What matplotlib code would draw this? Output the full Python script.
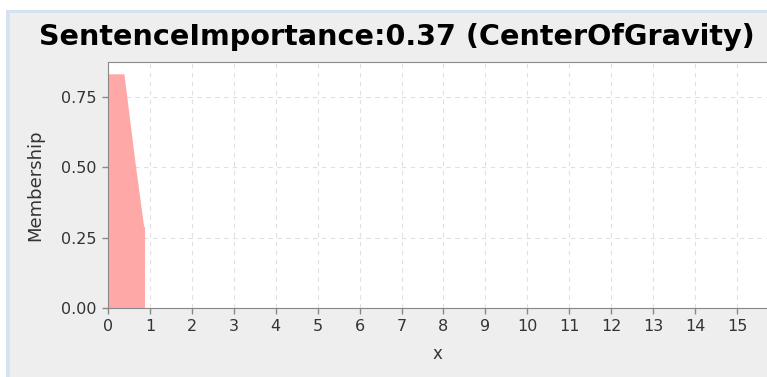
import matplotlib.pyplot as plt
from matplotlib.patches import Rectangle

plt.rcParams['font.family'] = ['DejaVu Sans']

# defuzzified output membership (clipped shape)
x_vals = [0.0, 0.38, 0.66, 0.85, 0.87, 0.87]
y_vals = [0.833, 0.833, 0.50, 0.29, 0.29, 0.0]
x_ticks = list(range(0, 16))
y_ticks = [0.0, 0.25, 0.5, 0.75]
y_tick_labels = ['0.00', '0.25', '0.50', '0.75']
title = 'SentenceImportance:0.37 (CenterOfGravity)'

W, H = 767, 377
fig = plt.figure(figsize=(W / 100, H / 100), dpi=100, facecolor='white')

# panel background with light blue border
fig.add_artist(Rectangle((6 / W, 0), 1, 1 - 10 / H, transform=fig.transFigure,
                         facecolor='#D5E3F1', edgecolor='none', zorder=-2))
fig.add_artist(Rectangle((10 / W, 0), 1, 1 - 13 / H, transform=fig.transFigure,
                         facecolor='#EEEEEE', edgecolor='none', zorder=-1))

ax = fig.add_axes([108 / W, (H - 308) / H, (W - 108) / W, (308 - 62) / H])
ax.set_facecolor('white')
ax.fill_between(x_vals, y_vals, 0, color='#FFA8A8', linewidth=0, zorder=2)

ax.set_xlim(0, (W - 108) / 41.93)
ax.set_ylim(0, 0.875)
ax.set_xticks(x_ticks)
ax.set_yticks(y_ticks)
ax.set_yticklabels(y_tick_labels)
ax.grid(True, color='#E0E0E0', linestyle=(0, (4, 4)), linewidth=0.8, zorder=1)
ax.set_axisbelow(True)

for s in ['left', 'bottom', 'top']:
    ax.spines[s].set_color('#888888')
ax.spines['right'].set_visible(False)
ax.tick_params(colors='#888888', labelcolor='#333333', labelsize=11.5,
               length=4, width=1, pad=4)

ax.set_xlabel('x', fontsize=12, color='#333333', labelpad=8)
ax.set_ylabel('Membership', fontsize=13, color='#333333', labelpad=12)

fig.text(397 / W, 1 - 45 / H, title, ha='center', va='baseline',
         fontsize=20.6, fontweight='bold', color='black')

fig.savefig('out.png', dpi=100, facecolor=fig.get_facecolor())
